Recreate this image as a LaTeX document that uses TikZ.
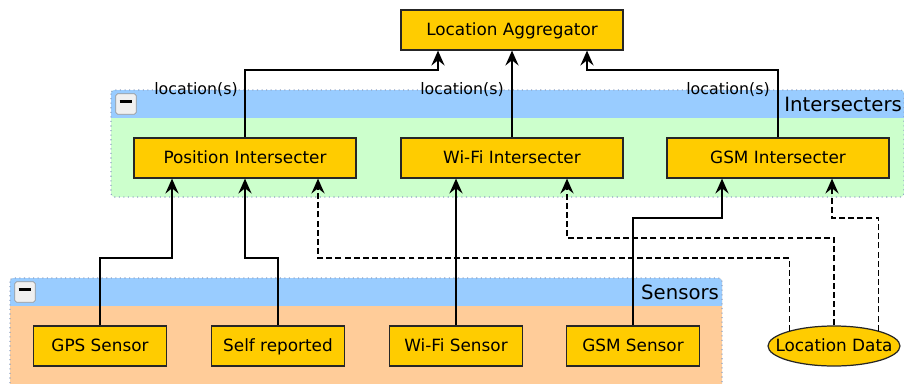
\documentclass[tikz,border=0pt]{standalone}
\usepackage{fontspec}
\setmainfont{DejaVu Sans}
\usetikzlibrary{arrows.meta,shapes.geometric}

\definecolor{boxfill}{HTML}{FFCC00}
\definecolor{headblue}{HTML}{99CCFF}
\definecolor{intbody}{HTML}{CCFFCC}
\definecolor{sensbody}{HTML}{FFCC99}
\definecolor{grpline}{HTML}{8FA3C4}

\begin{document}
\begin{tikzpicture}
            [x=0.02cm, y=-0.02cm, font=\fontsize{9.6}{11}\selectfont,
            box/.style={draw=black!85, line width=0.7pt, fill=boxfill, minimum width=4.44cm, minimum height=0.8cm, inner sep=0pt, text height=6.6pt, text depth=0pt},
            sensor/.style={box, minimum width=2.66cm},
            store/.style={ellipse, draw=black!85, line width=0.7pt, fill=boxfill, minimum width=2.64cm, minimum height=0.8cm, inner sep=0pt, text height=0pt, text depth=0pt},
            link/.style={line width=0.6pt, black, -{Stealth[length=8.5pt, width=7.5pt, inset=3pt]}},
            data/.style={link, dash pattern=on 3.4pt off 1.8pt},
            group/.style={draw=grpline, dotted, line width=0.6pt, rounded corners=2pt},
            grplabel/.style={anchor=east, inner sep=1pt, font=\fontsize{11.2}{13}\selectfont},
            minus/.style={draw=gray!80, fill=gray!12, rounded corners=1pt, minimum size=0.41cm, inner sep=0pt},
            lbl/.style={inner sep=1pt, font=\fontsize{9}{10}\selectfont}]

            \useasboundingbox (0,0) rectangle (904,383);

            % Intersecters group
            \fill[intbody, rounded corners=2pt] (111,90) rectangle (904,197);
            \fill[headblue, rounded corners=2pt] (111,90) rectangle (904,121);
            \fill[intbody] (111,118) rectangle (904,124);
            \draw[group] (111,90) rectangle (904,197);
            \node[minus] (intmin) at (126,104) {\rule[0.6ex]{7.2pt}{1.7pt}};
            \node[grplabel] (intname) at (904,104) {Intersecters};

            % Sensors group
            \fill[sensbody, rounded corners=2pt] (10,278) rectangle (722,400);
            \fill[headblue, rounded corners=2pt] (10,278) rectangle (722,309);
            \fill[sensbody] (10,306) rectangle (722,312);
            \draw[group] (10,278) rectangle (722,400);
            \node[minus] (sensmin) at (25,292) {\rule[0.6ex]{7.2pt}{1.7pt}};
            \node[grplabel] (sensname) at (721,292) {Sensors};

            \node[box] (agg) at (512,30) {Location Aggregator};
            \node[box] (pos) at (245,158) {Position Intersecter};
            \node[box] (wint) at (512,158) {Wi-Fi Intersecter};
            \node[box] (gsm) at (778,158) {GSM Intersecter};

            \node[sensor] (gps) at (100,346) {GPS Sensor};
            \node[sensor] (self) at (278,346) {Self reported};
            \node[sensor] (wsens) at (456,346) {Wi-Fi Sensor};
            \node[sensor] (gsmsens) at (633,346) {GSM Sensor};
            \node[store] (locdata) at (834,346) {\makebox[0pt]{\raisebox{-0.55ex}{Location Data}}};

            % sensors to intersecters
            \draw[link] (gps.north) |- (172,258) -- (pos.south -| 172,258);
            \draw[link] (self.north) |- (245,258) -- (pos.south);
            \draw[link] (wsens.north) -- (wint.south -| wsens.north);
            \draw[link] (gsmsens.north) |- (722,218) -- (gsm.south -| 722,218);

            % location data (dashed)
            \draw[data] (locdata.161) |- (318,258) -- (pos.south -| 318,258);
            \draw[data] (locdata.north) |- (567,238) -- (wint.south -| 567,238);
            \draw[data] (locdata.19) |- (832,218) -- (gsm.south -| 832,218);

            % intersecters to aggregator
            \draw[link] (pos.north) |- (438,70) -- (agg.south -| 438,70);
            \draw[link] (wint.north) -- (agg.south);
            \draw[link] (gsm.north) |- (587,70) -- (agg.south -| 587,70);

            % Labels for the outputs
            \node[lbl] (lpos) at (196,90) {location(s)};
            \node[lbl] (lwifi) at (462,90) {location(s)};
            \node[lbl] (lgsm) at (728,90) {location(s)};

        \end{tikzpicture}
\end{document}
